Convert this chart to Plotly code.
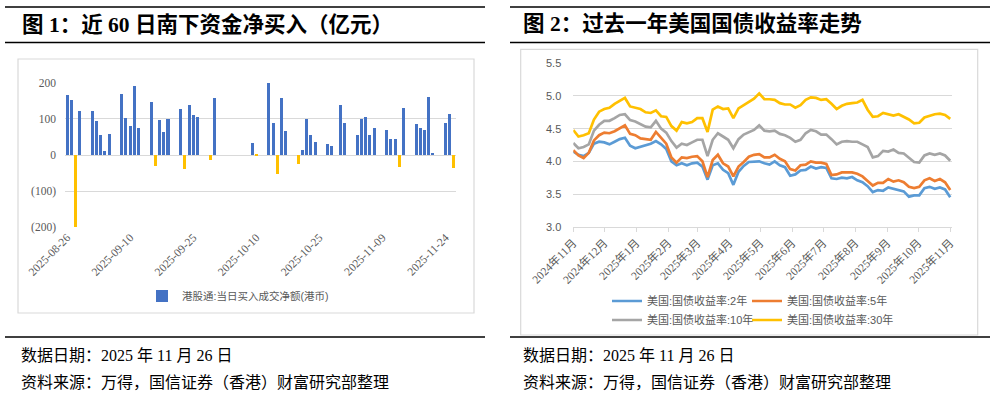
import plotly.graph_objects as go
import pandas as pd

W, H = 997, 394

# ---------------- Left chart data: southbound net buying (HK$ 100m) ----------------
flow_name = "港股通:当日买入成交净额(港币)"
flow_dates = ["2025-08-26","2025-08-27","2025-08-28","2025-08-29","2025-09-01","2025-09-02","2025-09-03",
              "2025-09-04","2025-09-05","2025-09-08","2025-09-09","2025-09-10","2025-09-11","2025-09-12",
              "2025-09-15","2025-09-16","2025-09-17","2025-09-18","2025-09-19","2025-09-22","2025-09-23",
              "2025-09-24","2025-09-25","2025-09-26","2025-09-29","2025-09-30","2025-10-09","2025-10-10",
              "2025-10-13","2025-10-14","2025-10-15","2025-10-16","2025-10-17","2025-10-20","2025-10-21",
              "2025-10-22","2025-10-23","2025-10-24","2025-10-27","2025-10-28","2025-10-30","2025-10-31",
              "2025-11-03","2025-11-04","2025-11-05","2025-11-06","2025-11-07","2025-11-10","2025-11-11",
              "2025-11-12","2025-11-13","2025-11-14","2025-11-17","2025-11-18","2025-11-19","2025-11-20",
              "2025-11-21","2025-11-24","2025-11-25","2025-11-26"]
flow_vals = [165, 152, -199, 120, 120, 92, 55, 9, 57, 168, 102, 78, 191, 75, 145, -32, 95, 64, 100, 127,
             -39, 138, 110, 105, -16, 156, 31, -4, 198, 88, -54, 158, 65, -26, 12, 100, 55, 34, 29, 24,
             138, 88, 55, 100, 105, 55, 75, 67, 44, 44, -34, 130, 85, 75, 67, 160, 3, 88, 113, -38]
flow_ticks = ["2025-08-26", "2025-09-10", "2025-09-25", "2025-10-10", "2025-10-25", "2025-11-09", "2025-11-24"]
flow_yticks = [-200, -100, 0, 100, 200]
flow_ytext = ["(200)", "(100)", "0", "100", "200"]

# ---------------- Right chart data: US treasury yields (%) ----------------
bond_dates = pd.date_range("2024-11-26", periods=74, freq="5D")
y2 = [4.15,4.10,4.08,4.13,4.27,4.30,4.29,4.26,4.30,4.34,4.36,4.24,4.20,4.22,4.24,4.27,4.31,4.26,4.19,4.00,3.94,3.97,3.94,3.97,3.98,
      3.92,3.72,3.94,3.97,3.87,3.82,3.64,3.84,3.93,3.99,3.99,4.00,3.97,3.95,4.00,3.94,3.91,3.78,3.80,3.86,3.87,3.92,3.89,3.91,3.90,
      3.74,3.73,3.75,3.74,3.76,3.71,3.68,3.62,3.53,3.56,3.55,3.60,3.58,3.56,3.54,3.46,3.48,3.48,3.59,3.61,3.58,3.60,3.57,3.45]
y5 = [4.17,4.09,4.05,4.13,4.32,4.40,4.44,4.43,4.46,4.50,4.55,4.42,4.40,4.35,4.34,4.33,4.45,4.36,4.27,4.06,3.98,4.06,4.05,4.07,4.08,
      4.00,3.76,4.02,4.10,3.97,3.92,3.77,3.92,3.99,4.07,4.10,4.11,4.06,4.06,4.10,4.04,4.00,3.88,3.86,3.94,3.95,4.00,3.98,3.98,3.96,
      3.79,3.80,3.83,3.83,3.83,3.81,3.77,3.70,3.63,3.67,3.67,3.73,3.69,3.71,3.68,3.61,3.59,3.61,3.71,3.74,3.70,3.73,3.68,3.56]
y10 = [4.28,4.20,4.22,4.26,4.47,4.56,4.62,4.62,4.66,4.71,4.72,4.63,4.61,4.57,4.53,4.52,4.62,4.50,4.44,4.31,4.21,4.27,4.25,4.29,4.33,
       4.33,4.08,4.33,4.43,4.38,4.33,4.20,4.34,4.41,4.45,4.48,4.55,4.47,4.46,4.47,4.42,4.40,4.36,4.30,4.33,4.43,4.48,4.46,4.41,4.41,
       4.34,4.26,4.30,4.31,4.30,4.30,4.26,4.22,4.06,4.08,4.16,4.15,4.18,4.13,4.12,4.05,3.99,3.98,4.09,4.12,4.10,4.12,4.09,4.01]
y30 = [4.48,4.38,4.40,4.43,4.64,4.76,4.80,4.82,4.88,4.92,4.97,4.84,4.82,4.80,4.75,4.74,4.78,4.69,4.68,4.54,4.47,4.60,4.58,4.60,4.66,
       4.66,4.45,4.79,4.84,4.80,4.81,4.66,4.81,4.86,4.92,4.96,5.04,4.95,4.95,4.94,4.89,4.87,4.87,4.82,4.86,4.94,4.98,4.97,4.94,4.95,
       4.88,4.80,4.85,4.88,4.89,4.90,4.94,4.79,4.68,4.69,4.74,4.72,4.70,4.72,4.68,4.64,4.58,4.59,4.67,4.70,4.72,4.73,4.71,4.65]
bond_names = ["美国:国债收益率:2年", "美国:国债收益率:5年", "美国:国债收益率:10年", "美国:国债收益率:30年"]
bond_colors = ["#5B9BD5", "#ED7D31", "#A5A5A5", "#FFC000"]
bond_ticks = ["2024-11-26","2024-12-26","2025-01-26","2025-02-26","2025-03-26","2025-04-26","2025-05-26",
              "2025-06-26","2025-07-26","2025-08-26","2025-09-26","2025-10-26","2025-11-26"]
bond_ticktext = ["2024年11月","2024年12月","2025年1月","2025年2月","2025年3月","2025年4月","2025年5月",
                 "2025年6月","2025年7月","2025年8月","2025年9月","2025年10月","2025年11月"]

titles = ["图 1：近 60 日南下资金净买入（亿元）", "图 2：过去一年美国国债收益率走势"]
note_date = "数据日期：2025 年 11 月 26 日"
note_src = "资料来源：万得，国信证券（香港）财富研究部整理"

SERIF = "Liberation Serif, Noto Sans CJK SC"
SANS = "Liberation Sans, Noto Sans CJK SC"
GREY = "#595959"
GRID = "#D9D9D9"


def px(x):
    return x / W


def py(y):
    return 1 - y / H


fig = go.Figure()

bar_colors = ["#4472C4" if v >= 0 else "#FFC000" for v in flow_vals]
fig.add_trace(go.Bar(x=flow_dates, y=flow_vals, name=flow_name, showlegend=True,
                     marker=dict(color=bar_colors, line=dict(width=0)),
                     width=0.72 * 86400000, xaxis="x", yaxis="y", legend="legend"))

series = [y2, y5, y10, y30]
legend_ids = ["legend2", "legend3", "legend4", "legend5"]
for vals, nm, col, lg in zip(series, bond_names, bond_colors, legend_ids):
    fig.add_trace(go.Scatter(x=bond_dates, y=vals, name=nm, mode="lines", showlegend=True,
                             line=dict(color=col, width=2.7), xaxis="x2", yaxis="y2", legend=lg))

shapes = []
for x0, x1 in [(5, 485), (510, 990)]:
    for yy in [7, 42.5, 337]:
        shapes.append(dict(type="line", xref="paper", yref="paper", x0=px(x0), x1=px(x1),
                           y0=py(yy), y1=py(yy), line=dict(color="black", width=1.5)))
shapes.append(dict(type="rect", xref="paper", yref="paper", x0=px(18), x1=px(474), y0=py(59), y1=py(313),
                   line=dict(color=GRID, width=1.2)))
shapes.append(dict(type="rect", xref="paper", yref="paper", x0=px(520.7), x1=px(977.7), y0=py(49.3), y1=py(335),
                   line=dict(color=GRID, width=1.2)))

annotations = []
for t, x0 in zip(titles, [20, 521]):
    annotations.append(dict(text="<b>" + t + "</b>", x=px(x0), y=py(24.5), xref="paper", yref="paper",
                            xanchor="left", yanchor="middle", showarrow=False,
                            font=dict(family=SERIF, size=21.5, color="black")))
for x0 in [19, 521]:
    annotations.append(dict(text=note_date, x=px(x0), y=py(355.5), xref="paper", yref="paper",
                            xanchor="left", yanchor="middle", showarrow=False,
                            font=dict(family=SERIF, size=16, color="black")))
    annotations.append(dict(text=note_src, x=px(x0), y=py(382.5), xref="paper", yref="paper",
                            xanchor="left", yanchor="middle", showarrow=False,
                            font=dict(family=SERIF, size=16, color="black")))


def line_legend(x, y):
    return dict(x=px(x), y=py(y), xanchor="left", yanchor="middle", orientation="h",
                bgcolor="rgba(0,0,0,0)", font=dict(family=SANS, size=11, color=GREY))


fig.update_layout(
    template="none",
    width=W, height=H, margin=dict(l=0, r=0, t=0, b=0, pad=0, autoexpand=False),
    paper_bgcolor="white", plot_bgcolor="white",
    font=dict(family=SERIF, color=GREY),
    bargap=0,
    xaxis=dict(domain=[px(65), px(456)], anchor="y", type="date", automargin=False,
               range=["2025-08-25 12:00", "2025-11-26 12:00"],
               tickvals=flow_ticks, tickformat="%Y-%m-%d", tickangle=-45,
               showgrid=False, zeroline=False, showline=False, ticks="",
               tickfont=dict(family=SERIF, size=11.5, color=GREY)),
    yaxis=dict(domain=[py(227.7), py(82.3)], anchor="x", range=[-201, 201], automargin=False,
               tickvals=flow_yticks, ticktext=flow_ytext, ticks="",
               showgrid=True, gridcolor=GRID, gridwidth=1,
               zeroline=True, zerolinecolor=GRID, zerolinewidth=1, showline=False,
               ticklabelstandoff=8,
               tickfont=dict(family=SERIF, size=11.5, color=GREY)),
    xaxis2=dict(domain=[px(573.3), px(952.3)], anchor="y2", type="date", automargin=False,
                range=["2024-11-26", "2025-11-28"],
                tickvals=bond_ticks, ticktext=bond_ticktext, tickangle=-45,
                showgrid=False, zeroline=False, showline=True, linecolor=GRID, linewidth=1,
                ticks="outside", ticklen=4, tickcolor=GRID,
                tickfont=dict(family=SERIF, size=11.5, color=GREY)),
    yaxis2=dict(domain=[py(226.7), py(63.3)], anchor="x2", range=[3.0, 5.5], automargin=False,
                dtick=0.5, tickformat=".1f", ticks="",
                showgrid=True, gridcolor=GRID, gridwidth=1, zeroline=False, showline=False,
                ticklabelstandoff=11,
                tickfont=dict(family=SANS, size=11, color=GREY)),
    legend=dict(x=px(238), y=py(296), xanchor="center", yanchor="middle", orientation="h",
                bgcolor="rgba(0,0,0,0)", font=dict(family=SANS, size=10.5, color=GREY)),
    legend2=line_legend(607, 301),
    legend3=line_legend(747, 301),
    legend4=line_legend(607, 320),
    legend5=line_legend(747, 320),
    shapes=shapes, annotations=annotations,
)

fig.write_html("out.html", config={"displayModeBar": False},
               post_script="document.body.style.margin='0';document.body.style.overflow='hidden';")
